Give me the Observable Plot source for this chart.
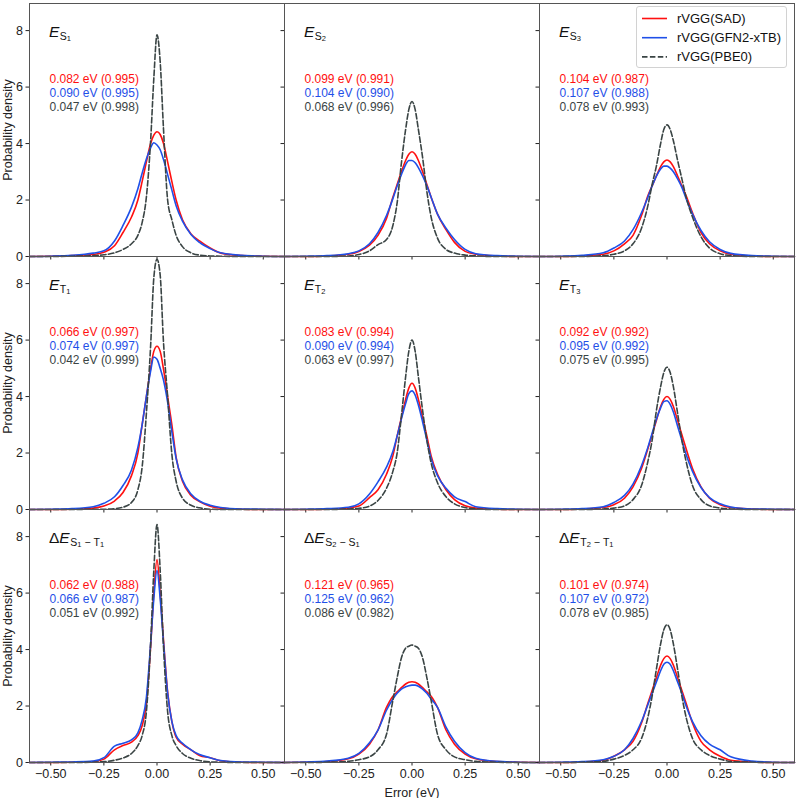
<!DOCTYPE html>
<html><head><meta charset="utf-8">
<script src="https://cdn.jsdelivr.net/npm/d3@7"></script>
<script src="https://cdn.jsdelivr.net/npm/@observablehq/plot@0.6"></script>
<style>
html,body{margin:0;padding:0;background:#fff}
#chart{position:relative;width:798px;height:798px;overflow:hidden;font-family:"Liberation Sans",Arial,sans-serif;background:#fff}
.panel{position:absolute}
#legend{position:absolute;left:636px;top:6px;width:151px;height:62px;box-sizing:border-box;border:1px solid #d2d2d2;border-radius:3px;background:rgba(255,255,255,0.85)}
</style></head>
<body><div id="chart"></div>
<script>
// ---- data ----
const errorGrid = [-0.6,-0.5,-0.4,-0.3,-0.25,-0.2,-0.16,-0.12,-0.09,-0.07,-0.05,-0.03,-0.015,0,0.015,0.03,0.05,0.07,0.09,0.12,0.16,0.2,0.25,0.3,0.4,0.5,0.6];

const sadES1 = [0,0.01,0.03,0.07,0.15,0.38,0.85,1.4,2.0,2.65,3.35,4.0,4.3,4.42,4.32,4.02,3.35,2.65,2.0,1.3,0.8,0.55,0.3,0.12,0.03,0.01,0];
const gfnES1 = [0,0.01,0.04,0.12,0.2,0.55,1.1,1.75,2.4,2.95,3.45,3.85,4.03,3.95,3.78,3.45,2.9,2.35,1.8,1.25,0.78,0.5,0.28,0.13,0.04,0.01,0];
const pbeES1 = [0,0,0.01,0.03,0.06,0.13,0.25,0.45,0.75,1.2,2.1,4.1,6.3,7.85,6.9,4.6,2.0,1.3,0.75,0.35,0.13,0.05,0.02,0.01,0,0,0];

const sadES2 = [0,0,0.02,0.08,0.18,0.4,0.75,1.35,2.1,2.55,3.0,3.4,3.62,3.71,3.62,3.4,3.0,2.55,2.1,1.5,0.95,0.5,0.18,0.08,0.02,0,0];
const gfnES2 = [0,0.01,0.03,0.1,0.2,0.45,0.85,1.45,2.05,2.5,2.9,3.25,3.4,3.4,3.32,3.15,2.85,2.5,2.1,1.5,1.0,0.6,0.25,0.1,0.03,0.01,0];
const pbeES2 = [0,0,0,0.02,0.07,0.2,0.42,0.6,1.1,1.9,3.3,4.5,5.2,5.49,5.2,4.5,3.5,2.3,1.4,0.65,0.25,0.12,0.05,0.02,0,0,0];

const sadES3 = [0,0,0.02,0.08,0.2,0.45,0.75,1.45,2.15,2.5,2.85,3.18,3.35,3.42,3.35,3.18,2.85,2.5,2.15,1.55,0.85,0.45,0.2,0.08,0.02,0,0];
const gfnES3 = [0,0.01,0.04,0.13,0.3,0.55,0.95,1.55,2.1,2.5,2.85,3.1,3.2,3.2,3.13,3.0,2.75,2.45,2.05,1.5,0.92,0.52,0.25,0.11,0.03,0.01,0];
const pbeES3 = [0,0,0,0.03,0.08,0.2,0.45,1.0,1.8,2.55,3.2,4.0,4.5,4.66,4.5,4.1,3.4,2.75,2.1,1.4,0.7,0.3,0.1,0.03,0,0,0];

const sadET1 = [0,0,0.01,0.05,0.12,0.3,0.6,1.2,2.0,3.0,4.0,5.0,5.6,5.78,5.6,5.0,4.0,3.0,1.85,1.0,0.5,0.28,0.12,0.05,0.01,0,0];
const gfnET1 = [0,0.01,0.03,0.1,0.22,0.45,0.85,1.4,2.2,3.0,4.0,4.9,5.4,5.32,5.0,4.6,3.8,2.75,1.8,1.05,0.55,0.3,0.15,0.07,0.02,0.01,0];
const pbeET1 = [0,0,0,0.01,0.01,0.03,0.08,0.25,0.7,1.5,3.4,5.8,8.2,8.86,8.3,6.0,4.0,1.95,1.0,0.4,0.15,0.06,0.01,0,0,0,0];

const sadET2 = [0,0,0.01,0.05,0.12,0.42,0.7,1.25,1.9,2.6,3.25,3.9,4.3,4.47,4.3,3.9,3.25,2.6,1.9,1.25,0.7,0.35,0.13,0.05,0.01,0,0];
const gfnET2 = [0,0.01,0.03,0.08,0.2,0.55,0.98,1.5,2.05,2.6,3.2,3.75,4.1,4.2,4.05,3.7,3.1,2.45,1.8,1.2,0.75,0.45,0.28,0.1,0.03,0.01,0];
const pbeET2 = [0,0,0,0.02,0.04,0.12,0.32,0.75,1.35,2.0,3.3,4.7,5.6,6.0,5.6,4.7,3.5,2.45,1.65,0.95,0.45,0.2,0.07,0.02,0,0,0];

const sadET3 = [0,0,0.02,0.07,0.17,0.4,0.8,1.45,2.15,2.65,3.15,3.65,3.9,4.0,3.9,3.65,3.15,2.65,2.15,1.45,0.8,0.4,0.17,0.07,0.02,0,0];
const gfnET3 = [0,0.01,0.03,0.1,0.25,0.5,0.9,1.55,2.2,2.7,3.2,3.6,3.82,3.85,3.72,3.45,2.95,2.45,1.95,1.35,0.78,0.42,0.2,0.09,0.02,0.01,0];
const pbeET3 = [0,0,0,0.02,0.05,0.13,0.35,0.85,1.7,2.45,3.5,4.35,4.85,5.04,4.85,4.35,3.4,2.45,1.7,0.85,0.35,0.13,0.05,0.02,0,0,0];

const sadDS1T1 = [0,0,0.01,0.03,0.12,0.45,0.6,0.72,0.95,1.3,2.1,4.1,6.0,7.19,6.0,4.4,2.5,1.45,0.9,0.65,0.45,0.25,0.17,0.06,0.01,0,0];
const gfnDS1T1 = [0,0.01,0.02,0.05,0.17,0.58,0.68,0.8,1.05,1.5,2.3,4.2,5.8,6.8,5.8,4.3,2.45,1.45,0.95,0.68,0.45,0.28,0.17,0.07,0.02,0.01,0];
const pbeDS1T1 = [0,0,0,0.01,0.03,0.08,0.16,0.32,0.6,0.95,1.8,4.2,6.8,8.43,6.8,4.2,1.8,0.95,0.6,0.32,0.15,0.07,0.02,0.01,0,0,0];

const sadDS2S1 = [0,0.01,0.03,0.13,0.3,0.65,1.15,1.95,2.35,2.5,2.65,2.78,2.84,2.86,2.84,2.78,2.65,2.5,2.35,1.95,1.15,0.65,0.3,0.13,0.03,0.01,0];
const gfnDS2S1 = [0,0.02,0.05,0.15,0.32,0.7,1.15,1.85,2.25,2.45,2.6,2.68,2.72,2.74,2.74,2.7,2.6,2.45,2.25,1.95,1.25,0.75,0.35,0.15,0.04,0.01,0];
const pbeDS2S1 = [0,0,0.01,0.04,0.1,0.2,0.45,1.0,2.2,3.0,3.7,4.05,4.12,4.16,4.12,4.05,3.7,3.0,2.2,1.0,0.45,0.2,0.1,0.04,0.01,0,0];

const sadDT2T1 = [0,0,0.02,0.08,0.22,0.45,0.75,1.4,2.1,2.55,3.0,3.45,3.68,3.77,3.68,3.45,3.0,2.55,2.1,1.4,0.75,0.45,0.22,0.08,0.02,0,0];
const gfnDT2T1 = [0,0.01,0.03,0.1,0.22,0.45,0.85,1.45,2.05,2.45,2.85,3.25,3.48,3.55,3.48,3.25,2.85,2.45,2.0,1.45,0.95,0.65,0.45,0.2,0.05,0.01,0];
const pbeDT2T1 = [0,0,0.01,0.04,0.12,0.25,0.45,0.85,1.6,2.35,3.3,4.2,4.7,4.88,4.7,4.2,3.3,2.35,1.6,0.85,0.45,0.25,0.12,0.04,0.01,0,0];

const sadStats = ["0.082 eV (0.995)","0.099 eV (0.991)","0.104 eV (0.987)","0.066 eV (0.997)","0.083 eV (0.994)","0.092 eV (0.992)","0.062 eV (0.988)","0.121 eV (0.965)","0.101 eV (0.974)"];
const gfnStats = ["0.090 eV (0.995)","0.104 eV (0.990)","0.107 eV (0.988)","0.074 eV (0.997)","0.090 eV (0.994)","0.095 eV (0.992)","0.066 eV (0.987)","0.125 eV (0.962)","0.107 eV (0.972)"];
const pbeStats = ["0.047 eV (0.998)","0.068 eV (0.996)","0.078 eV (0.993)","0.042 eV (0.999)","0.063 eV (0.997)","0.075 eV (0.995)","0.051 eV (0.992)","0.086 eV (0.982)","0.078 eV (0.985)"];

const titleDelta = [false,false,false,false,false,false,true,true,true];
const titleSubs = [[["S","1"]],[["S","2"]],[["S","3"]],[["T","1"]],[["T","2"]],[["T","3"]],[["S","1"],["T","1"]],[["S","2"],["S","1"]],[["T","2"],["T","1"]]];

const methodNames = ["rVGG(SAD)","rVGG(GFN2-xTB)","rVGG(PBE0)"];
const xTicks = [-0.5,-0.25,0,0.25,0.5];
const yTicks = [0,2,4,6,8];
const xLabel = "Error (eV)";
const yLabel = "Probability density";

// ---- build ----
const sadSeries = [sadES1,sadES2,sadES3,sadET1,sadET2,sadET3,sadDS1T1,sadDS2S1,sadDT2T1];
const gfnSeries = [gfnES1,gfnES2,gfnES3,gfnET1,gfnET2,gfnET3,gfnDS1T1,gfnDS2S1,gfnDT2T1];
const pbeSeries = [pbeES1,pbeES2,pbeES3,pbeET1,pbeET2,pbeET3,pbeDS1T1,pbeDS2S1,pbeDT2T1];

const RED = "#ff1010", BLUE = "#1f50e8", GRAY = "#3a4444";
const W = 255, H = 253;
const colLeft = [29, 284, 539];
const rowTop = [3, 256, 509];
const chart = document.getElementById("chart");
const fmtX = d => d.toFixed(2).replace("-", "\u2212");
const FONT = "'Liberation Sans', Arial, sans-serif";

for (let p = 0; p < 9; p++) {
  const r = Math.floor(p / 3), c = p % 3;
  const ml = c === 0 ? 29 : 6;
  const mb = r === 2 ? 36 : 6;
  const rows = k => errorGrid.map((x, i) => ({err: x, dens: k[i]}));
  const svg = Plot.plot({
    width: W + ml, height: H + mb,
    marginLeft: ml, marginRight: 0, marginTop: 0, marginBottom: mb,
    style: {background: "transparent", overflow: "visible", fontFamily: FONT, fontSize: "12.5px", color: "#222"},
    x: {domain: [-0.6, 0.6], ticks: xTicks, tickSize: 3.5, tickPadding: 3, tickFormat: r === 2 ? fmtX : () => "",
        label: (r === 2 && c === 1) ? xLabel : null, labelAnchor: "center", labelOffset: 34, labelArrow: "none"},
    y: {domain: [0, 8.96], ticks: yTicks, tickSize: 3.5, tickPadding: 3, tickFormat: c === 0 ? d => String(d) : () => "",
        label: c === 0 ? yLabel : null, labelAnchor: "center", labelOffset: 26, labelArrow: "none"},
    marks: [
      Plot.line(rows(sadSeries[p]), {x: "err", y: "dens", stroke: RED, strokeWidth: 1.6, curve: "monotone-x"}),
      Plot.line(rows(gfnSeries[p]), {x: "err", y: "dens", stroke: BLUE, strokeWidth: 1.6, curve: "monotone-x"}),
      Plot.line(rows(pbeSeries[p]), {x: "err", y: "dens", stroke: GRAY, strokeWidth: 1.6, strokeDasharray: "5.5,2.4", curve: "monotone-x"}),
      Plot.frame({stroke: "#555", strokeWidth: 1}),
      Plot.text([sadStats[p]], {text: d => d, frameAnchor: "top-left", dx: 20, dy: 79, textAnchor: "start", lineAnchor: "bottom", fill: RED, fontSize: 12}),
      Plot.text([gfnStats[p]], {text: d => d, frameAnchor: "top-left", dx: 20, dy: 93.2, textAnchor: "start", lineAnchor: "bottom", fill: BLUE, fontSize: 12}),
      Plot.text([pbeStats[p]], {text: d => d, frameAnchor: "top-left", dx: 20, dy: 107.4, textAnchor: "start", lineAnchor: "bottom", fill: GRAY, fontSize: 12})
    ]
  });
  // panel title with subscripts
  const y0 = 34;
  const t = d3.select(svg).append("text")
    .attr("x", ml + 20).attr("y", y0)
    .attr("text-anchor", "start")
    .attr("font-size", 15.5).attr("fill", "#111")
    .style("font-family", FONT);
  if (titleDelta[p]) t.append("tspan").text("\u0394");
  t.append("tspan").attr("font-style", "italic").text("E");
  titleSubs[p].forEach((s, k) => {
    if (k > 0) t.append("tspan").attr("y", y0 + 2.5).attr("font-size", 10.5).attr("dx", 3).text("\u2212");
    t.append("tspan").attr("y", y0 + 2.5).attr("font-size", 10.5).attr("dx", k > 0 ? 3 : 0.5).text(s[0]);
    t.append("tspan").attr("y", y0 + 4).attr("font-size", 7.5).text(s[1]);
  });
  const div = document.createElement("div");
  div.className = "panel";
  div.style.left = (colLeft[c] - ml) + "px";
  div.style.top = rowTop[r] + "px";
  div.appendChild(svg);
  chart.appendChild(div);
}

// legend
const legend = document.createElement("div");
legend.id = "legend";
const lsvg = d3.create("svg").attr("width", 149).attr("height", 60)
  .style("font-family", FONT).style("font-size", "13px");
const legStroke = [RED, BLUE, GRAY];
const legDash = [null, null, "5.5,2.4"];
methodNames.forEach((name, i) => {
  const cy = 11.5 + i * 19.2;
  const ln = lsvg.append("line").attr("x1", 5).attr("x2", 30).attr("y1", cy).attr("y2", cy)
    .attr("stroke", legStroke[i]).attr("stroke-width", 1.6);
  if (legDash[i]) ln.attr("stroke-dasharray", legDash[i]);
  lsvg.append("text").attr("x", 40).attr("y", cy).attr("dy", "0.35em").attr("fill", "#111").text(name);
});
legend.appendChild(lsvg.node());
chart.appendChild(legend);
</script>
</body></html>
